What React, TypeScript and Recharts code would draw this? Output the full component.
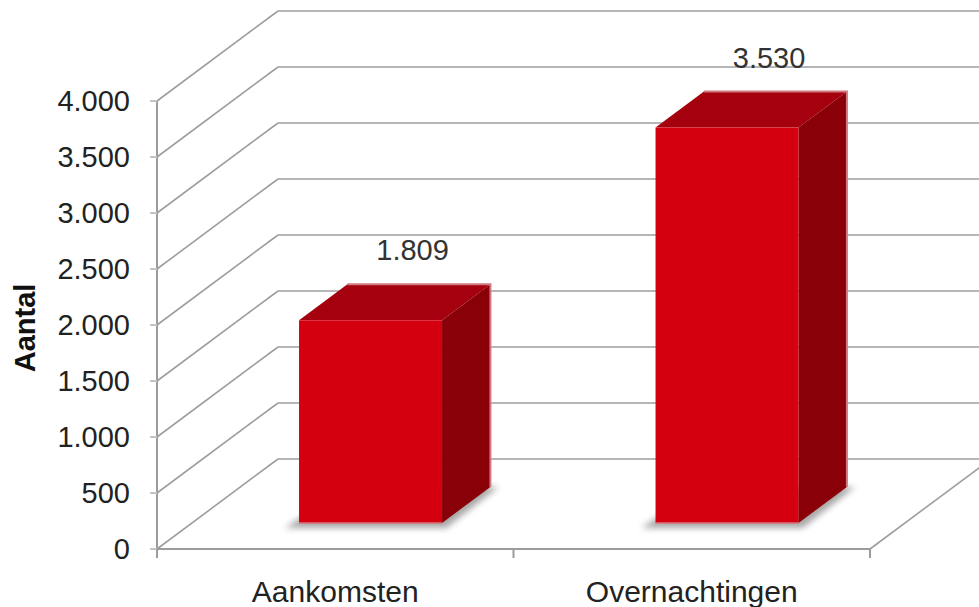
import React from "react";
import { Bar, BarChart, CartesianGrid, Label, XAxis, YAxis } from "recharts";

const categories = ["Aankomsten", "Overnachtingen"];
const aantallen = [1809, 3530];
const yTicks = [0, 500, 1000, 1500, 2000, 2500, 3000, 3500, 4000];

const data = categories.map((name, i) => ({ name, aantal: aantallen[i] }));

// screen offset from the front plane to the back wall
const DEPTH_X = 121;
const DEPTH_Y = -90;
// bars sit between these fractions of the depth
const BAR_FRONT = 0.29;
const BAR_BACK = 0.69;

const FONT = '"Liberation Sans", Arial, sans-serif';
const GRID = "#9e9e9e";
const AXIS = "#9c9c9c";

const formatNl = (v: number) =>
  String(v).replace(/\B(?=(\d{3})+(?!\d))/g, ".");

// diagonal from the front axis to the back wall, then along the wall
const GridLine = (props: any) => {
  const { x1, y1, x2, index } = props;
  const bottom =
    props.y != null && props.height != null
      ? Math.abs(y1 - (props.y + props.height)) < 0.5
      : index === 0;
  return (
    <g key={`grid-${index}`}>
      <line x1={x1} y1={y1} x2={x1 + DEPTH_X} y2={y1 + DEPTH_Y} stroke={GRID} strokeWidth={1.6} />
      <line x1={x1 + DEPTH_X} y1={y1 + DEPTH_Y} x2={x2 + DEPTH_X} y2={y1 + DEPTH_Y} stroke={GRID} strokeWidth={1.6} />
      {bottom && (
        <line x1={x2} y1={y1} x2={x2 + DEPTH_X} y2={y1 + DEPTH_Y} stroke={GRID} strokeWidth={1.6} />
      )}
    </g>
  );
};

const CategoryTick = (props: any) => {
  const { x, y, payload, index, visibleTicksCount } = props;
  const half = payload?.offset ?? 178;
  const last = index === (visibleTicksCount ?? 2) - 1;
  return (
    <g>
      <line x1={x - half} y1={y} x2={x - half} y2={y + 9} stroke={AXIS} strokeWidth={2} />
      {last && <line x1={x + half} y1={y} x2={x + half} y2={y + 9} stroke={AXIS} strokeWidth={2} />}
      <text x={x} y={y + 53} textAnchor="middle" fill="#222" fontSize={30} fontFamily={FONT}>
        {payload.value}
      </text>
    </g>
  );
};

const Bar3D = (props: any) => {
  const { x, y, width, height, index, payload } = props;
  const fx = DEPTH_X * BAR_FRONT;
  const fy = DEPTH_Y * BAR_FRONT;
  const dx = DEPTH_X * (BAR_BACK - BAR_FRONT);
  const dy = DEPTH_Y * (BAR_BACK - BAR_FRONT);
  const left = x + fx;
  const right = x + width + fx;
  const top = y + fy;
  const bottom = y + height + fy;
  const fid = `bar-shadow-${index}`;
  return (
    <g>
      <defs>
        <filter id={fid} x="-20%" y="-50%" width="140%" height="200%">
          <feGaussianBlur stdDeviation={3} />
        </filter>
      </defs>
      <polygon
        points={`${left - 14},${bottom + 5} ${right + 4},${bottom + 5} ${right + dx + 8},${bottom + dy} ${left + dx},${bottom + dy}`}
        fill="#777"
        opacity={0.65}
        filter={`url(#${fid})`}
      />
      <polygon
        points={`${left},${top} ${right},${top} ${right + dx},${top + dy} ${left + dx},${top + dy}`}
        fill="#a5000d"
      />
      <polygon
        points={`${right},${top} ${right + dx},${top + dy} ${right + dx},${bottom + dy} ${right},${bottom}`}
        fill="#8a0008"
      />
      <rect x={left} y={top} width={width} height={height} fill="#d5000f" />
      <polyline
        points={`${left + dx},${top + dy} ${right + dx},${top + dy} ${right + dx},${bottom + dy}`}
        fill="none"
        stroke="#d27a82"
        strokeWidth={2}
      />
      <line x1={left} y1={bottom} x2={right} y2={bottom} stroke="#d8707a" strokeWidth={1.5} />
      <text
        x={left + width / 2 + 42}
        y={top + dy - 24}
        textAnchor="middle"
        fill="#333"
        fontSize={29}
        fontFamily={FONT}
      >
        {formatNl(payload?.aantal)}
      </text>
    </g>
  );
};

export default function App() {
  return (
    <div style={{ position: "absolute", left: 0, top: 0, width: 979, height: 607, background: "#fff" }}>
      <BarChart
        width={979}
        height={607}
        data={data}
        margin={{ top: 101, right: 109, bottom: 0, left: 0 }}
        barCategoryGap="30%"
      >
        <CartesianGrid vertical={false} horizontal={GridLine} />
        <XAxis
          dataKey="name"
          height={58}
          axisLine={{ stroke: AXIS, strokeWidth: 2 }}
          tickLine={false}
          tickSize={0}
          tickMargin={0}
          interval={0}
          tick={<CategoryTick />}
        />
        <YAxis
          width={157}
          domain={[0, 4000]}
          ticks={yTicks}
          interval={0}
          tickFormatter={formatNl}
          axisLine={{ stroke: AXIS, strokeWidth: 2 }}
          tickLine={{ stroke: "#c4c4c4", strokeWidth: 2 }}
          tickSize={7}
          tickMargin={20}
          tick={{ fill: "#222", fontSize: 29, fontFamily: FONT }}
        >
          <Label
            content={(p: any) => {
              const vb = p.viewBox ?? { y: 101, height: 448 };
              const cy = vb.y + vb.height / 2 + 3;
              return (
                <text
                  transform={`translate(25, ${cy}) rotate(-90)`}
                  textAnchor="middle"
                  dominantBaseline="central"
                  fontWeight="bold"
                  fontSize={29}
                  fontFamily={FONT}
                  fill="#111"
                >
                  Aantal
                </text>
              );
            }}
          />
        </YAxis>
        <Bar dataKey="aantal" shape={<Bar3D />} isAnimationActive={false} />
      </BarChart>
    </div>
  );
}
